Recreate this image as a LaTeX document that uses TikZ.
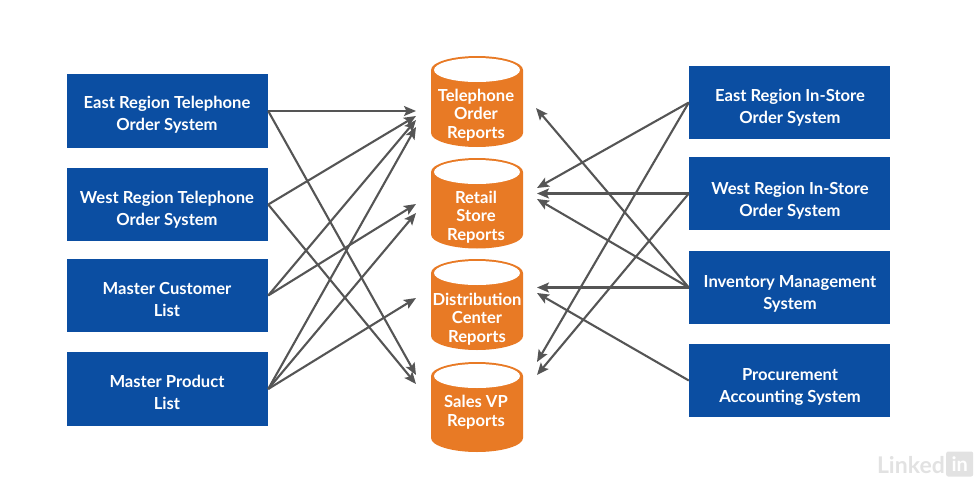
\documentclass[tikz,border=0pt]{standalone}
\usepackage{fontspec}
\setmainfont{Lato}
\usetikzlibrary{arrows.meta}
\definecolor{boxblue}{HTML}{0B4EA2}
\definecolor{cylorange}{HTML}{E87A25}
\definecolor{linkgray}{HTML}{555555}
\definecolor{wmgray}{HTML}{E2E2E2}
\tikzset{
  sysbox/.style={rectangle,fill=boxblue,minimum width=201pt,minimum height=73.5pt,inner sep=0pt},
  boxtext/.style={text=white,align=center,font=\fontsize{16.6}{22}\selectfont\bfseries},
  cylbody/.style={fill=cylorange},
  cylend/.style={fill=white},
  cylanchor/.style={rectangle,minimum width=92pt,inner sep=0pt},
  cyltext/.style={text=white,align=center,font=\fontsize{16.6}{18.7}\selectfont\bfseries},
  link/.style={draw=linkgray,line width=2.1pt,-{Stealth[length=12pt,width=10pt,inset=2.5pt]}}
}
% #1 node name, #2 centre x, #3 top y, #4 bottom y
\newcommand{\cylshape}[4]{%
  \path[cylbody] ({#2-46},{#3+14})
    .. controls ({#2-46},{#3+6.3}) and ({#2-25.3},{#3}) .. ({#2},{#3})
    .. controls ({#2+25.3},{#3}) and ({#2+46},{#3+6.3}) .. ({#2+46},{#3+14})
    -- ({#2+46},{#4-14})
    .. controls ({#2+46},{#4-6.3}) and ({#2+25.3},{#4}) .. ({#2},{#4})
    .. controls ({#2-25.3},{#4}) and ({#2-46},{#4-6.3}) .. ({#2-46},{#4-14})
    -- cycle;
  \path[cylend] ({#2},{#3+14}) ellipse [x radius=43,y radius=12];
  \node[cylanchor,minimum height={(#4-#3)*1pt}] (#1) at ({#2},{(#3+#4)/2}) {};
}
\begin{document}
\begin{tikzpicture}[x=1pt,y=-1pt]
\useasboundingbox (0,0) rectangle (978,482);
% left systems
\node[sysbox] (e1) at (167.5,111) {};
\node[sysbox] (w1) at (167.5,204.5) {};
\node[sysbox] (mc) at (167.5,295.5) {};
\node[sysbox] (mp) at (167.5,389) {};
\node[boxtext] (e1t) at (167,115) {East Region Telephone\\Order System};
\node[boxtext] (w1t) at (167,210) {West Region Telephone\\Order System};
\node[boxtext] (mct) at (167,299) {Master Customer\\List};
\node[boxtext] (mpt) at (167,392) {Master Product\\List};
% right systems
\node[sysbox] (e2) at (789.5,102.5) {};
\node[sysbox] (w2) at (789.5,193.5) {};
\node[sysbox] (im) at (789.5,287.5) {};
\node[sysbox] (pa) at (789.5,380.5) {};
\node[boxtext] (e2t) at (790,108) {East Region In-Store\\Order System};
\node[boxtext] (w2t) at (790,201) {West Region In-Store\\Order System};
\node[boxtext] (imt) at (790,293.5) {Inventory Management\\System};
\node[boxtext] (pat) at (790,387) {Procurement\\Accounting System};
% cylinders
\cylshape{tel}{477}{56}{147}
\cylshape{ret}{477}{158}{248.5}
\cylshape{dis}{477}{259}{350}
\cylshape{sal}{477}{362}{452}
\node[cyltext] (telt) at (476,115) {Telephone\\Order\\Reports};
\node[cyltext] (rett) at (476,217) {Retail\\Store\\Reports};
\node[cyltext] (dist) at (477,319) {Distribution\\Center\\Reports};
\node[cyltext] (salt) at (476,412) {Sales VP\\Reports};
% arrow ends, left side
\coordinate (telA) at (416,111);
\coordinate (telB) at (416,116);
\coordinate (telC) at (416,120);
\coordinate (telD) at (416,127);
\coordinate (retA) at (416,204);
\coordinate (retB) at (416,213);
\coordinate (disA) at (416,298);
\coordinate (salA) at (416,375);
\coordinate (salB) at (416,384);
% arrow ends, right side
\coordinate (telR) at (536,108);
\coordinate (retR1) at (537,188);
\coordinate (retR2) at (537,193.5);
\coordinate (retR3) at (537,199);
\coordinate (disR1) at (537,287.5);
\coordinate (disR2) at (537,293);
\coordinate (salR1) at (537,362);
\coordinate (salR2) at (537,375);
% connectors
\draw[link] (e1.east) -- (telA);
\draw[link] (e1.east) -- (salA);
\draw[link] (w1.east) -- (telB);
\draw[link] (w1.east) -- (salB);
\draw[link] (mc.east) -- (telC);
\draw[link] (mc.east) -- (retA);
\draw[link] (mp.east) -- (telD);
\draw[link] (mp.east) -- (retB);
\draw[link] (mp.east) -- (disA);
\draw[link] (e2.west) -- (retR1);
\draw[link] (e2.west) -- (salR1);
\draw[link] (w2.west) -- (retR2);
\draw[link] (w2.west) -- (salR2);
\draw[link] (im.west) -- (telR);
\draw[link] (im.west) -- (retR3);
\draw[link] (im.west) -- (disR1);
\draw[link] (pa.west) -- (disR2);
% watermark
\node[text=wmgray,font=\fontsize{23}{23}\selectfont\bfseries,anchor=east,inner sep=0pt] (wm) at (945,465) {Linked};
\node[fill=wmgray,text=white,rounded corners=2pt,font=\fontsize{20}{20}\selectfont\bfseries,anchor=west,inner sep=2pt,minimum width=27pt,minimum height=25pt] (wmb) at (946,464) {in};
\end{tikzpicture}
\end{document}
